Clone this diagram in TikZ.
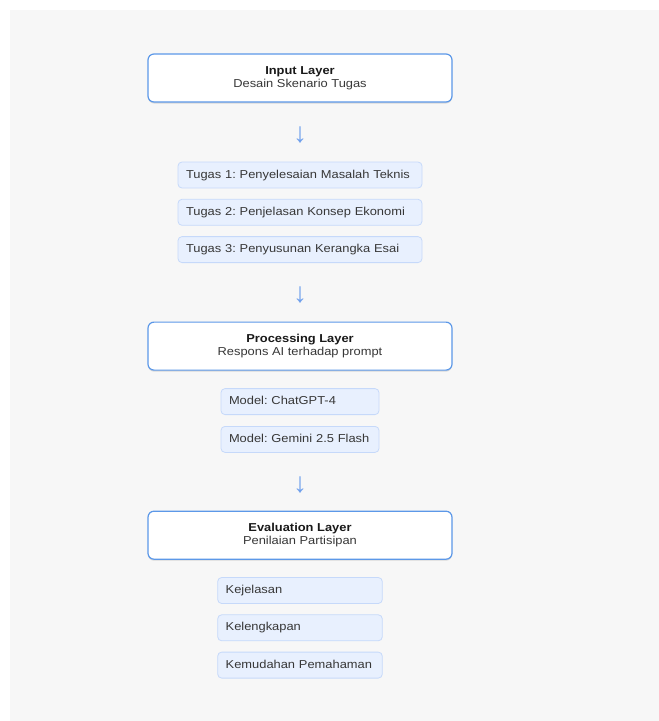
\documentclass[tikz,border=0pt]{standalone}
\usepackage{fontspec}
\setmainfont[FakeStretch=1.12]{Liberation Sans}
\newfontfamily\arrowfont{Liberation Sans}
\usetikzlibrary{positioning,calc,shadows}
\definecolor{panelgray}{RGB}{247,247,247}
\definecolor{layerblue}{RGB}{92,152,232}
\definecolor{itemfill}{RGB}{232,240,254}
\definecolor{itemline}{RGB}{198,217,250}
\definecolor{arrowblue}{RGB}{112,160,236}
\definecolor{textdark}{RGB}{25,25,25}
\definecolor{textgray}{RGB}{55,55,55}
\frenchspacing
\tikzset {
  % big box for each layer
  layerbox/.style = {
    draw = layerblue,
    line width = 1.2pt,
    fill = white,
    rounded corners = 6pt,
    minimum width = 304pt,
    minimum height = 48pt,
    inner sep = 0,
    align = center,
    text = textdark,
    font = \fontsize{11.5}{13.3}\selectfont,
    drop shadow = {shadow xshift=0pt, shadow yshift=-1.5pt, opacity=.12, fill=black}
  },
  % small box listed under a layer
  itembox/.style = {
    draw = itemline,
    line width = 0.8pt,
    fill = itemfill,
    rounded corners = 4pt,
    minimum height = 26pt,
    inner xsep = 8pt,
    inner ysep = 0,
    text height = 8.6pt,
    text depth = 2.4pt,
    align = left,
    text = textgray,
    font = \fontsize{11.5}{13.3}\selectfont
  },
  task/.style = {itembox, text width = 228pt},
  model/.style = {itembox, text width = 142pt},
  crit/.style = {itembox, text width = 148.6pt},
  % down arrow between layers
  flow/.style = {
    text = arrowblue,
    font = \arrowfont\fontsize{28}{28}\selectfont,
    inner sep = 0,
    yshift = -3pt
  },
  node distance = 10.5pt
}
\begin{document}
\begin{tikzpicture}
    \useasboundingbox (0,0) rectangle (659pt,-721pt);
    \fill[panelgray] (10pt,-10pt) rectangle (659pt,-721pt);

    % input layer
    \node[layerbox] (input) at (300pt,-78pt)
      {\textbf{Input Layer}\\{\color{textgray}Desain Skenario Tugas}};

    \node[task] (task1) [below=59pt of input] {Tugas 1: Penyelesaian Masalah Teknis};
    \node[task] (task2) [below=of task1] {Tugas 2: Penjelasan Konsep Ekonomi};
    \node[task] (task3) [below=of task2] {Tugas 3: Penyusunan Kerangka Esai};

    % processing layer
    \node[layerbox] (proc) [below=58.5pt of task3]
      {\textbf{Processing Layer}\\{\color{textgray}Respons AI terhadap prompt}};

    \node[model] (gpt) [below=17.5pt of proc] {Model: ChatGPT-4};
    \node[model] (gemini) [below=11pt of gpt] {Model: Gemini 2.5 Flash};

    % evaluation layer
    \node[layerbox] (eval) [below=57.8pt of gemini]
      {\textbf{Evaluation Layer}\\{\color{textgray}Penilaian Partisipan}};

    \node[crit] (clear) [below=17.3pt of eval] {Kejelasan};
    \node[crit] (complete) [below=of clear] {Kelengkapan};
    \node[crit] (ease) [below=of complete] {Kemudahan Pemahaman};

    % arrows between the groups
    \node[flow] (arrow1) at ($(input.south)!0.5!(task1.north)$) {↓};
    \node[flow] (arrow2) at ($(task3.south)!0.5!(proc.north)$) {↓};
    \node[flow] (arrow3) at ($(gemini.south)!0.5!(eval.north)$) {↓};
\end{tikzpicture}
\end{document}
